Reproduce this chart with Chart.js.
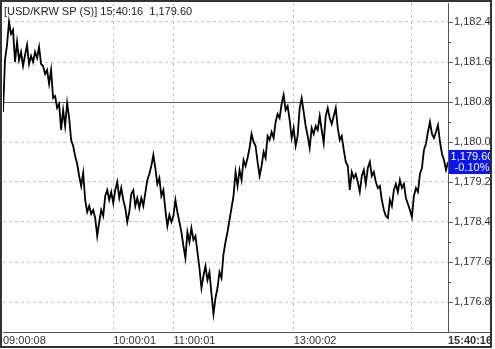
<!DOCTYPE html>
<html>
<head>
<meta charset="utf-8">
<script src="https://cdn.jsdelivr.net/npm/chart.js@4.4.1/dist/chart.umd.min.js"></script>
<style>
body{margin:0;background:#fff}
canvas{display:block}
</style>
</head>
<body>
<canvas id="chart" width="495" height="349"></canvas>
<script>
const title="[USD/KRW SP (S)] 15:40:16  1,179.60"
const lastPrice=1179.60
const changeText="-0.10%"
const prevClose=1180.79

// time ticks, as point index
const tickIndex=[0,55,85,145,204,222]
const tickLabels=["09:00:08","10:00:01","11:00:01","13:00:02","","15:40:16"]

const priceTicks=[1176.8,1177.2,1177.6,1178.0,1178.4,1178.8,1179.2,1179.6,1180.0,1180.4,1180.8,1181.2,1181.6,1182.0,1182.4]
const priceLabels=["1,176.80","","1,177.60","","1,178.40","","1,179.20","","1,180.00","","1,180.80","","1,181.60","","1,182.40"]

const prices=[
1180.60,1181.64,1181.94,1182.40,1182.16,1182.24,1181.60,1182.00,1181.64,1181.80,
1181.52,1181.74,1181.94,1181.56,1181.72,1181.60,1181.80,1181.68,1181.90,1181.56,
1181.52,1181.36,1181.44,1181.16,1181.44,1180.88,1180.92,1180.68,1180.76,1180.24,
1180.64,1180.32,1180.78,1180.48,1180.04,1179.92,1179.72,1179.56,1179.32,1179.12,
1179.38,1178.84,1178.60,1178.72,1178.56,1178.64,1178.48,1178.12,1178.40,1178.64,
1178.52,1178.92,1179.04,1178.84,1179.00,1178.78,1179.04,1179.20,1178.88,1179.08,
1178.84,1178.68,1178.40,1178.60,1178.96,1179.04,1178.72,1178.88,1178.68,1178.88,
1178.72,1178.98,1179.24,1179.36,1179.52,1179.74,1179.48,1179.16,1179.28,1178.92,
1179.04,1178.64,1178.32,1178.54,1178.40,1178.52,1178.84,1178.60,1178.40,1178.20,
1177.92,1177.68,1178.20,1178.00,1178.28,1178.04,1178.12,1177.80,1177.48,1177.08,
1177.32,1177.52,1177.24,1177.40,1176.96,1176.56,1176.88,1177.08,1177.40,1177.28,
1177.76,1178.00,1178.20,1178.44,1178.68,1178.92,1179.40,1179.12,1179.44,1179.24,
1179.64,1179.52,1179.68,1179.88,1180.16,1180.00,1179.92,1179.60,1179.32,1179.52,
1179.80,1179.68,1180.12,1180.04,1180.20,1180.08,1180.40,1180.56,1180.48,1180.76,
1180.94,1180.64,1180.72,1180.44,1180.08,1180.28,1179.92,1180.12,1180.68,1180.88,
1180.60,1180.32,1180.12,1179.88,1180.28,1180.16,1180.32,1180.24,1180.52,1180.24,
1179.98,1180.52,1180.68,1180.48,1180.36,1180.52,1180.68,1180.28,1180.04,1180.12,
1179.84,1179.60,1179.52,1179.04,1179.40,1179.28,1179.36,1179.20,1179.00,1179.32,
1179.44,1179.16,1179.48,1179.60,1179.32,1179.40,1179.20,1179.08,1179.12,1178.84,
1178.64,1178.52,1178.48,1178.84,1178.72,1179.04,1179.16,1179.00,1179.24,1179.08,
1179.16,1178.88,1178.76,1178.64,1178.50,1178.92,1179.08,1179.00,1179.36,1179.48,
1179.84,1179.96,1180.20,1180.40,1180.16,1180.08,1180.20,1180.34,1180.00,1179.76,
1179.64,1179.44,1179.60
]

const lastIndex=prices.length-1
const font="'Liberation Sans', Arial, sans-serif"

// extra drawing: title, tick marks, price box, frame
const decor={
id:"decor",
afterDraw(chart){
const ctx=chart.ctx
const y=chart.scales.y
const area=chart.chartArea
ctx.save()

// y tick marks
ctx.strokeStyle="#555"
ctx.lineWidth=1
priceTicks.forEach((v,i)=>{
const py=Math.round(y.getPixelForValue(v))+0.5
const len=priceLabels[i]?5:3
ctx.beginPath()
ctx.moveTo(area.right,py)
ctx.lineTo(area.right+len,py)
ctx.stroke()
})

// bottom line under right axis
ctx.beginPath()
ctx.moveTo(area.right,area.bottom+0.5)
ctx.lineTo(491,area.bottom+0.5)
ctx.stroke()

// last price box
const py=y.getPixelForValue(lastPrice)
ctx.fillStyle="#0a14f0"
ctx.fillRect(area.right+1,Math.round(py)-12,43,24)
ctx.fillStyle="#fff"
ctx.font="11px "+font
ctx.textAlign="center"
ctx.textBaseline="middle"
ctx.fillText("1,179.60",472,Math.round(py)-5)
ctx.fillText(changeText,472,Math.round(py)+6)

// title
ctx.fillStyle="#222"
ctx.textAlign="left"
ctx.fillText(title,4,12)

// clip right edge and frame
ctx.fillStyle="#fff"
ctx.fillRect(491,0,4,349)
ctx.strokeStyle="#333"
ctx.lineWidth=2
ctx.strokeRect(1,1,490,346)
ctx.restore()
}
}

new Chart(document.getElementById("chart"),{
type:"line",
data:{
datasets:[{
data:prices.map((v,i)=>({x:i,y:v})),
borderColor:"#000",
borderWidth:1.8,
pointRadius:0,
tension:0,
order:1
},{
data:[{x:0,y:prevClose},{x:lastIndex,y:prevClose}],
borderColor:"#666",
borderWidth:1,
pointRadius:0,
order:2
}]
},
options:{
responsive:false,
animation:false,
devicePixelRatio:1,
layout:{padding:{left:3,top:3,right:0,bottom:0}},
plugins:{legend:{display:false},tooltip:{enabled:false}},
scales:{
x:{
type:"linear",
min:0,
max:lastIndex,
afterBuildTicks:s=>{s.ticks=tickIndex.map(v=>({value:v}))},
afterFit:s=>{s.height=17;s.paddingLeft=0;s.paddingRight=0},
ticks:{
autoSkip:false,
maxRotation:0,
minRotation:0,
align:"start",
padding:2,
color:"#333",
font:c=>({family:font,size:11,weight:c.index===tickIndex.length-1?"bold":"normal"}),
callback:(v,i)=>tickLabels[i]
},
grid:{
drawTicks:false,
color:c=>(c.index===0||c.index===tickIndex.length-1)?"transparent":"#c4c4c4"
},
border:{display:true,color:"#555",width:1,dash:[3,3]}
},
y:{
type:"linear",
position:"right",
min:1176.20,
max:1182.78,
afterBuildTicks:s=>{s.ticks=priceTicks.map(v=>({value:v}))},
afterFit:s=>{s.width=47;s.paddingTop=0;s.paddingBottom=0},
ticks:{
padding:6,
color:"#333",
font:{family:font,size:11},
callback:(v,i)=>priceLabels[i]
},
grid:{
drawTicks:false,
color:c=>priceLabels[c.index]?"#c4c4c4":"transparent"
},
border:{display:true,color:"#555",width:1,dash:[3,3]}
}
}
},
plugins:[decor]
})
</script>
</body>
</html>
